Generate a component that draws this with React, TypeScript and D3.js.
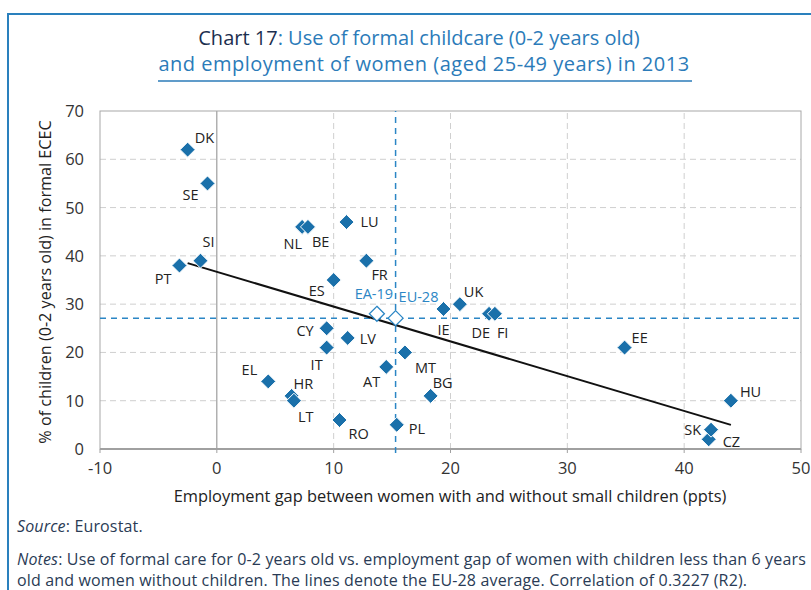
import React from "react";
import * as d3 from "d3";

const countries = ["DK","SE","SI","PT","NL","BE","LU","FR","ES","IE","UK","DE","FI","EE","HU","CZ","SK","CY","LV","IT","MT","AT","EL","HR","LT","BG","RO","PL"];
const employmentGap = [-2.5,-0.8,-1.4,-3.2,7.3,7.8,11.1,12.8,10.0,19.4,20.8,23.3,23.8,34.9,44.0,42.1,42.3,9.4,11.2,9.4,16.1,14.5,4.4,6.4,6.6,18.3,10.5,15.4];
const childcareUse = [62,55,39,38,46,46,47,39,35,29,30,28,28,21,10,2,4,25,23,21,20,17,14,11,10,11,6,5];

const averageNames = ["EA-19","EU-28"];
const averageGap = [13.7,15.3];
const averageUse = [28,27.1];

const trendGap = [-2.5,44];
const trendUse = [38.5,5];

const xTicks = [-10,0,10,20,30,40,50];
const yTicks = [0,10,20,30,40,50,60,70];

// label placement (dx, dy, anchor) relative to each marker
const labelPos: Record<string,[number,number,string]> = {
  DK:[7,-7,"start"], SE:[-9,17,"end"], SI:[2,-14,"start"], PT:[-8,18,"end"],
  NL:[0,22,"end"], BE:[4,20,"start"], LU:[14,5,"start"], FR:[5,19,"start"],
  ES:[-9,16,"end"], IE:[0,26,"middle"], UK:[4,-7,"start"], DE:[1,24,"end"],
  FI:[2,24,"start"], EE:[7,-5,"start"], HU:[9,-4,"start"], SK:[-10,5,"end"],
  CZ:[14,8,"start"], CY:[-13,8,"end"], LV:[12,6,"start"], IT:[-4,22,"end"],
  MT:[10,21,"start"], AT:[-6,20,"end"], EL:[-11,-6,"end"], HR:[2,-7,"start"],
  LT:[4,21,"start"], BG:[2,-8,"start"], RO:[9,19,"start"], PL:[12,9,"start"],
  "EA-19":[-3,-15,"middle"], "EU-28":[3,-16,"start"],
};

const FONT = "'Open Sans', 'Noto Sans', sans-serif";
const BLUE = "#1a70aa";
const LIGHTBLUE = "#2b86c5";

export default function App() {
  const x = d3.scaleLinear().domain([-10, 50]).range([100, 801]);
  const y = d3.scaleLinear().domain([0, 70]).range([449, 111]);
  const diamond = (cx: number, cy: number, r: number) =>
    `M${cx},${cy - r}L${cx + r},${cy}L${cx},${cy + r}L${cx - r},${cy}Z`;
  const trend = d3.line<number>().x((d) => x(trendGap[d])).y((d) => y(trendUse[d]));

  return (
    <div style={{ position: "absolute", left: 0, top: 0 }}>
      <svg width={811} height={590} style={{ display: "block", fontFamily: FONT }}>
        <rect x={0} y={0} width={811} height={590} fill="#fff" />
        {/* outer frame */}
        <path d="M8,590V14H811" fill="none" stroke="#2a80bd" strokeWidth={2} />
        {/* title */}
        <text x={419} y={45} textAnchor="middle" fontSize={20} fill="#2b7bb9">
          <tspan fill="#1c2f4f">Chart 17</tspan>: Use of formal childcare (0-2 years old)
        </text>
        <text x={424} y={71} textAnchor="middle" fontSize={20} letterSpacing={0.5} fill="#2b7bb9">
          and employment of women (aged 25-49 years) in 2013
        </text>
        <line x1={158} x2={692} y1={81} y2={81} stroke="#2b7bb9" strokeWidth={1.5} />

        {/* grid */}
        {yTicks.filter((t) => t > 0 && t < 70).map((t) => (
          <line key={"gy" + t} x1={x(-10)} x2={x(50)} y1={y(t)} y2={y(t)} stroke="#cfcfcf" strokeDasharray="6,4" />
        ))}
        {xTicks.filter((t) => t > 0 && t < 50).map((t) => (
          <line key={"gx" + t} x1={x(t)} x2={x(t)} y1={y(0)} y2={y(70)} stroke="#cfcfcf" strokeDasharray="6,4" />
        ))}
        <line x1={x(0)} x2={x(0)} y1={y(0)} y2={y(70)} stroke="#8a8a8a" strokeWidth={1} />
        {/* plot frame */}
        <rect x={x(-10)} y={y(70)} width={x(50) - x(-10)} height={y(0) - y(70)} fill="none" stroke="#a8a8a8" strokeWidth={1} />
        <line x1={x(-10)} x2={x(50)} y1={y(0)} y2={y(0)} stroke="#a0a0a0" strokeWidth={2} />
        {xTicks.map((t) => (
          <line key={"tx" + t} x1={x(t)} x2={x(t)} y1={y(0)} y2={y(0) + 4} stroke="#a0a0a0" />
        ))}

        {/* average lines */}
        <line x1={x(-10)} x2={x(50)} y1={y(averageUse[1])} y2={y(averageUse[1])} stroke={LIGHTBLUE} strokeWidth={1.5} strokeDasharray="6,5" />
        <line x1={x(averageGap[1])} x2={x(averageGap[1])} y1={y(0) + 4} y2={y(70)} stroke={LIGHTBLUE} strokeWidth={1.5} strokeDasharray="6,5" />

        {/* trend line */}
        <path d={trend([0, 1]) || ""} fill="none" stroke="#111" strokeWidth={2} />

        {/* tick labels */}
        {xTicks.map((t) => (
          <text key={"lx" + t} x={x(t)} y={474} textAnchor="middle" fontSize={16.5} fill="#333">{t}</text>
        ))}
        {yTicks.map((t) => (
          <text key={"ly" + t} x={84} y={y(t) + 6} textAnchor="end" fontSize={16.5} fill="#333">{t}</text>
        ))}
        <text transform={`translate(51,${(y(0) + y(70)) / 2 + 2}) rotate(-90)`} textAnchor="middle" fontSize={16.2} fill="#222">
          % of children (0-2 years old) in formal ECEC
        </text>
        <text x={450} y={502} textAnchor="middle" fontSize={16.4} fill="#222">
          Employment gap between women with and without small children (ppts)
        </text>

        {/* points */}
        {countries.map((c, i) => (
          <path key={"p" + c} d={diamond(x(employmentGap[i]), y(childcareUse[i]), 7.5)} fill={BLUE} stroke="#fff" strokeWidth={1} />
        ))}
        {averageNames.map((c, i) => (
          <path key={"a" + c} d={diamond(x(averageGap[i]), y(averageUse[i]), 7.5)} fill="#fff" stroke={LIGHTBLUE} strokeWidth={1.3} />
        ))}
        {countries.map((c, i) => {
          const [dx, dy, anchor] = labelPos[c];
          return (
            <text key={"t" + c} x={x(employmentGap[i]) + dx} y={y(childcareUse[i]) + dy} textAnchor={anchor as any} fontSize={14.5} fill="#222">{c}</text>
          );
        })}
        {averageNames.map((c, i) => {
          const [dx, dy, anchor] = labelPos[c];
          return (
            <text key={"at" + c} x={x(averageGap[i]) + dx} y={y(averageUse[i]) + dy} textAnchor={anchor as any} fontSize={14.5} fill={LIGHTBLUE}>{c}</text>
          );
        })}

        {/* source & notes */}
        <text x={17} y={532} fontSize={16} letterSpacing={0.15} fill="#2a3b55">
          <tspan fontStyle="italic">Source</tspan>: Eurostat.
        </text>
        <text x={17} y={565} fontSize={16} letterSpacing={0.15} fill="#2a3b55">
          <tspan fontStyle="italic">Notes</tspan>: Use of formal care for 0-2 years old vs. employment gap of women with children less than 6 years
        </text>
        <text x={17} y={586} fontSize={16} letterSpacing={0.15} fill="#2a3b55">
          old and women without children. The lines denote the EU-28 average. Correlation of 0.3227 (R2).
        </text>
      </svg>
    </div>
  );
}
